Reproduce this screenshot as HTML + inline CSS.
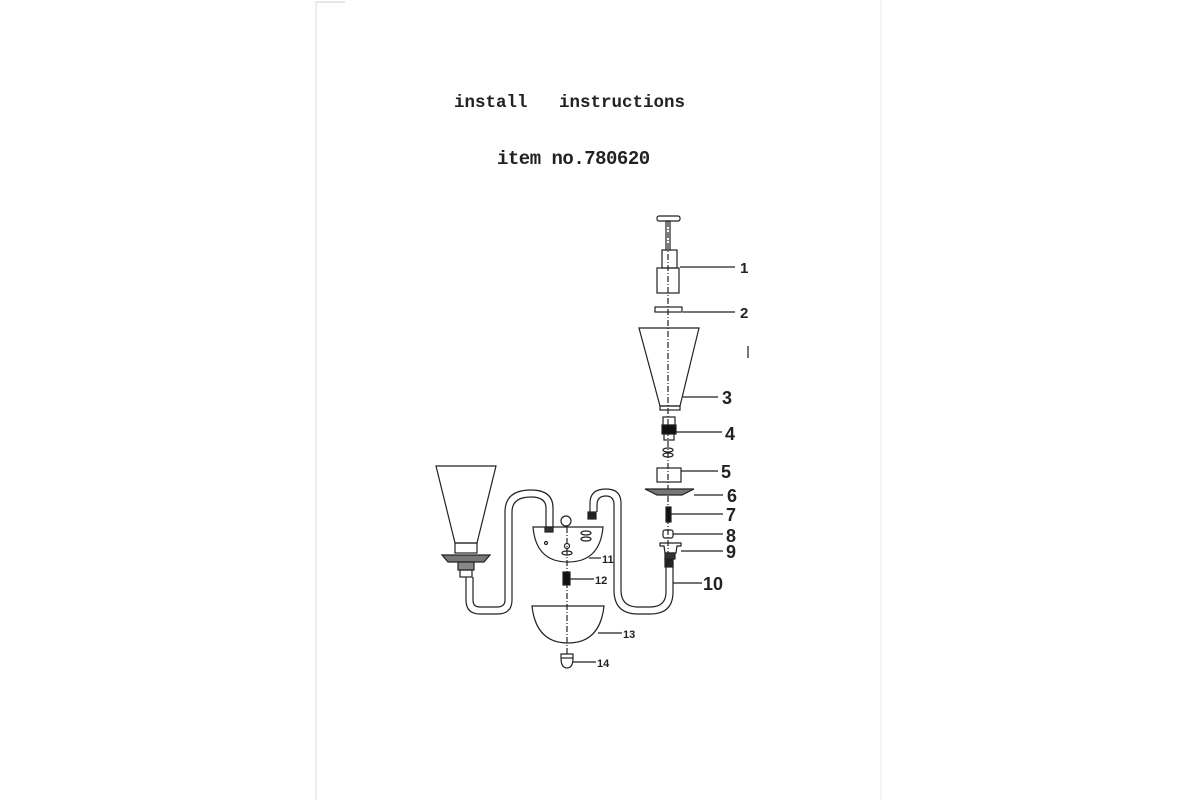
<!DOCTYPE html>
<html><head><meta charset="utf-8"><style>
html,body{margin:0;padding:0;background:#fff;}
svg{display:block}
</style></head><body>
<svg width="1200" height="800" viewBox="0 0 1200 800" xmlns="http://www.w3.org/2000/svg">
<rect width="1200" height="800" fill="#fff"/>
<line x1="316" y1="2" x2="316" y2="800" stroke="#ddd" stroke-width="1"/>
<line x1="316" y1="2" x2="345" y2="2" stroke="#ccc" stroke-width="1"/>
<line x1="881" y1="0" x2="881" y2="800" stroke="#eee" stroke-width="1"/>
<g font-family="Liberation Mono, monospace" font-weight="bold" fill="#222" style="white-space:pre">
<text x="454" y="107" font-size="17.5" xml:space="preserve">install   instructions</text>
<text x="497" y="164" font-size="19" letter-spacing="-0.5">item no.780620</text>
</g>
<g fill="none" stroke="#222" stroke-width="1.2">
<line x1="668" y1="221" x2="668" y2="560" stroke-dasharray="6,2,1,2"/>
<line x1="567" y1="527" x2="567" y2="655" stroke-dasharray="6,2,1,2"/>
<rect x="657" y="216" width="23" height="5" rx="2"/>
<rect x="666" y="221" width="4" height="29"/>
<rect x="662" y="250" width="15" height="18"/>
<rect x="657" y="268" width="22" height="25"/>
<rect x="655" y="307" width="27" height="5"/>
<path d="M639 328 L699 328 L680 406 L660 406 Z"/>
<rect x="660" y="406" width="20" height="4"/>
<rect x="663" y="417" width="12" height="8"/>
<rect x="662" y="425" width="14" height="9" fill="#111"/>
<rect x="664" y="434" width="10" height="6"/>
<ellipse cx="668" cy="450" rx="5" ry="2"/><ellipse cx="668" cy="455" rx="5" ry="2"/>
<rect x="657" y="468" width="24" height="14"/>
<path d="M645 489 L694 489 L682 495 L657 495 Z" fill="#777"/>
<rect x="666" y="507" width="5" height="15" fill="#111"/>
<rect x="663" y="530" width="10" height="8" rx="2"/>
<path d="M660 543 L681 543 L681 546 L677 546 L676 553 L665 553 L664 546 L660 546 Z"/>
<rect x="665" y="553" width="10" height="6" fill="#333"/>
<path d="M666 562 L666 592 Q666 607 650 607 L638 607 Q621 607 621 590 L621 503 Q621 489 606 489 Q590 489 590 503 L590 512"/>
<path d="M673 562 L673 592 Q673 614 650 614 L638 614 Q614 614 614 590 L614 505 Q614 496 606 496 Q597 496 597 505 L597 512"/>
<rect x="665" y="559" width="8" height="8" fill="#222"/>
<rect x="588" y="512" width="8" height="7" fill="#222"/>
<path d="M533 527 L603 527 Q600 562 568 562 Q536 562 533 527 Z"/>
<circle cx="566" cy="521" r="5"/>
<rect x="545" y="527" width="8" height="5" fill="#333"/>
<circle cx="546" cy="543" r="1.5"/>
<ellipse cx="586" cy="533" rx="5" ry="2"/><ellipse cx="586" cy="539" rx="5" ry="2"/>
<ellipse cx="567" cy="553" rx="5" ry="2"/><circle cx="567" cy="546" r="2.5"/>
<path d="M546 527 L546 508 Q546 497 531 497 Q512 497 512 512 L512 600 Q512 614 497 614 L480 614 Q466 614 466 600 L466 577"/>
<path d="M553 527 L553 508 Q553 490 531 490 Q505 490 505 512 L505 600 Q505 607 497 607 L480 607 Q473 607 473 600 L473 577"/>
<path d="M436 466 L496 466 L477 543 L455 543 Z"/>
<rect x="455" y="543" width="22" height="10"/>
<path d="M442 555 L490 555 L484 562 L448 562 Z" fill="#777"/>
<rect x="458" y="562" width="16" height="8" fill="#888"/>
<rect x="460" y="570" width="12" height="7"/>
<rect x="563" y="572" width="7" height="13" fill="#111"/>
<path d="M532 606 L604 606 Q600 643 568 643 Q536 643 532 606 Z"/>
<path d="M561 654 L573 654 L573 658 Q573 668 567 668 Q561 668 561 658 Z"/>
<line x1="561" y1="658" x2="573" y2="658"/>
<line x1="680" y1="267" x2="735" y2="267"/>
<line x1="683" y1="312" x2="735" y2="312"/>
<line x1="683" y1="397" x2="718" y2="397"/>
<line x1="676" y1="432" x2="722" y2="432"/>
<line x1="681" y1="471" x2="718" y2="471"/>
<line x1="694" y1="495" x2="723" y2="495"/>
<line x1="671" y1="514" x2="723" y2="514"/>
<line x1="673" y1="534" x2="723" y2="534"/>
<line x1="681" y1="551" x2="723" y2="551"/>
<line x1="673" y1="583" x2="702" y2="583"/>
<line x1="589" y1="558" x2="601" y2="558"/>
<line x1="570" y1="579" x2="594" y2="579"/>
<line x1="598" y1="633" x2="622" y2="633"/>
<line x1="573" y1="662" x2="596" y2="662"/>
<line x1="748" y1="346" x2="748" y2="358"/>
</g>
<g font-family="Liberation Sans, sans-serif" font-weight="bold" fill="#222">
<text x="740" y="273" font-size="15">1</text>
<text x="740" y="318" font-size="15">2</text>
<text x="722" y="404" font-size="18">3</text>
<text x="725" y="440" font-size="18">4</text>
<text x="721" y="478" font-size="18">5</text>
<text x="727" y="502" font-size="18">6</text>
<text x="726" y="521" font-size="18">7</text>
<text x="726" y="542" font-size="18">8</text>
<text x="726" y="558" font-size="18">9</text>
<text x="703" y="590" font-size="18">10</text>
<text x="602" y="563" font-size="11">11</text>
<text x="595" y="584" font-size="11">12</text>
<text x="623" y="638" font-size="11">13</text>
<text x="597" y="667" font-size="11">14</text>
</g>
</svg>
</body></html>
